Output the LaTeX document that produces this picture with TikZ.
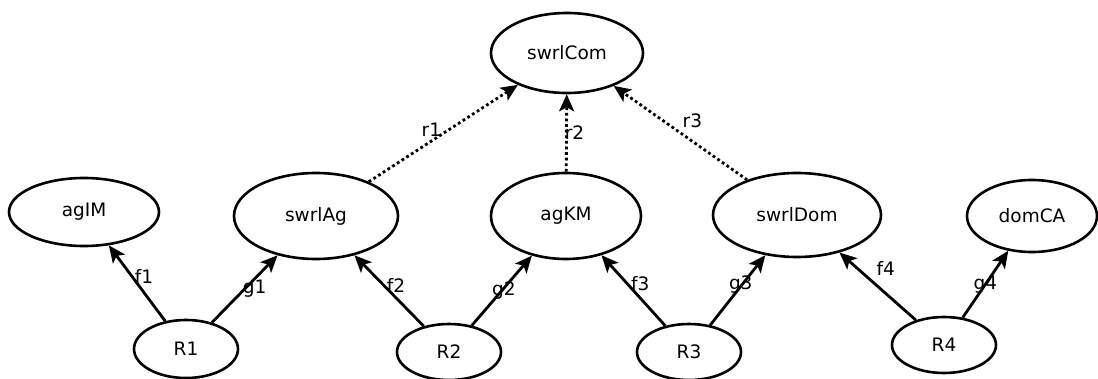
\documentclass[tikz,border=0pt]{standalone}
\usepackage{fontspec}
\setmainfont{DejaVu Sans}
\usetikzlibrary{shapes.geometric,arrows.meta}

\begin{document}
\begin{tikzpicture}[x=1pt, y=-1pt,
		every node/.style={font=\fontsize{18.5}{22}\selectfont},
		blob/.style={draw, ellipse, line width=2.6pt, inner sep=0pt},
		link/.style={line width=2.8pt, -{Stealth[length=17pt,width=15pt,inset=4pt]}},
		sub/.style={link, dash pattern=on 2.8pt off 2.8pt},
		lbl/.style={inner sep=0pt}]
		%%%%% START %%%%%
		\useasboundingbox (0,0) rectangle (1098,379);
		
		\node[blob, minimum width=152, minimum height=80] (com) at (567, 53) {swrlCom};
		
		\node[blob, minimum width=150, minimum height=68] (agim) at (84, 212) {agIM};
		\node[blob, minimum width=164, minimum height=86] (ag) at (316, 216) {swrlAg};
		\node[blob, minimum width=150, minimum height=86] (agkm) at (566, 216) {agKM};
		\node[blob, minimum width=168, minimum height=84] (dom) at (797, 215) {swrlDom};
		\node[blob, minimum width=130, minimum height=72] (domca) at (1032, 216) {domCA};
		
		\node[blob, minimum width=104, minimum height=58] (r1) at (186, 349) {R1};
		\node[blob, minimum width=104, minimum height=56] (r2) at (449, 352) {R2};
		\node[blob, minimum width=104, minimum height=56] (r3) at (689, 352) {R3};
		\node[blob, minimum width=104, minimum height=56] (r4) at (944, 345) {R4};
		
		\draw[sub] (ag) -- node[lbl, xshift=-12, yshift=4] {r1} (com);
		\draw[sub] (agkm) -- node[lbl, xshift=8] {r2} (com);
		\draw[sub] (dom) -- node[lbl, xshift=12, yshift=12] {r3} (com);
		
		\draw[link] (r1) -- node[lbl, xshift=7, yshift=7] {f1} (agim);
		\draw[link] (r1) -- node[lbl, xshift=10] {g1} (ag);
		\draw[link] (r2) -- node[lbl, xshift=7, yshift=5] {f2} (ag);
		\draw[link] (r2) -- node[lbl, xshift=2] {g2} (agkm);
		\draw[link] (r3) -- node[lbl, xshift=7, yshift=7] {f3} (agkm);
		\draw[link] (r3) -- node[lbl, xshift=3, yshift=6] {g3} (dom);
		\draw[link] (r4) -- node[lbl, xshift=8, yshift=18] {f4} (dom);
		\draw[link] (r4) -- node[lbl] {g4} (domca);
		
		%%%%% END %%%%%
\end{tikzpicture}
\end{document}
